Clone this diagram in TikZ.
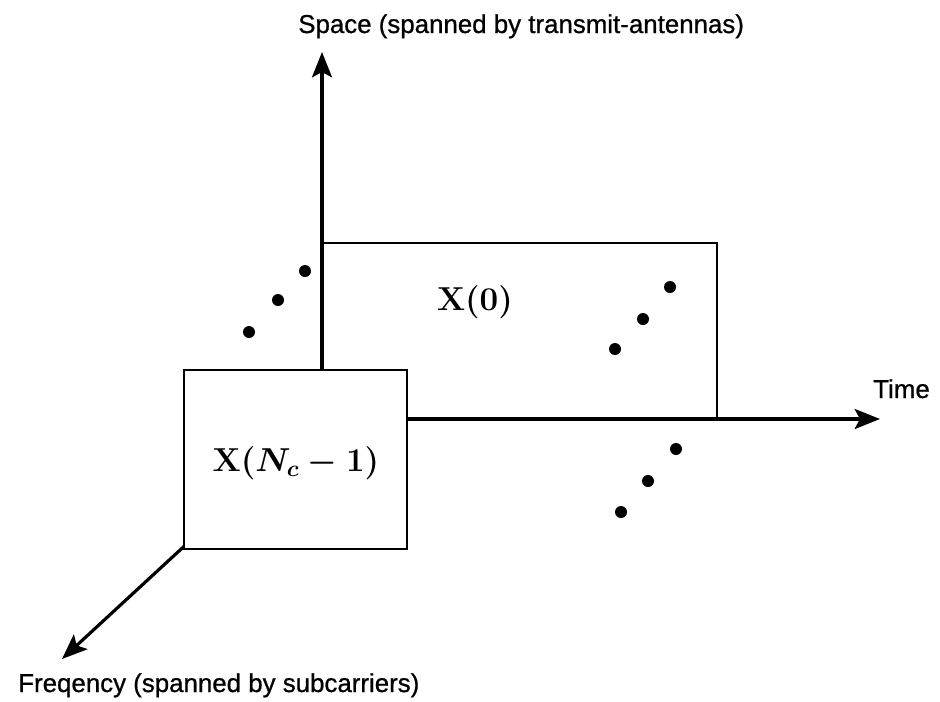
\documentclass[tikz,border=0pt]{standalone}
\usepackage[no-math]{fontspec}
\newfontfamily\lblfont{Liberation Sans}[FakeBold=0.8]
\usetikzlibrary{arrows.meta}
\tikzset{
  axis/.style={line width=2.4pt, -{Stealth[length=19pt,width=15pt,inset=4pt]}},
  panel/.style={draw, line width=1.8pt, fill=white, rectangle, inner sep=0pt},
  lbl/.style={font=\lblfont\fontsize{19.4}{22}\selectfont, inner sep=0pt},
  mlbl/.style={font=\fontsize{24}{28}\selectfont\boldmath, inner sep=0pt},
  dot/.style={circle, fill=black, inner sep=0pt, minimum size=9pt},
}
\begin{document}
\begin{tikzpicture}[x=0.75pt, y=-0.75pt]
\useasboundingbox (0,0) rectangle (940,701);
% back panel X(0)
\node[panel, minimum width=394*0.75pt, minimum height=177*0.75pt, anchor=north west] (back) at (322,242) {};
\coordinate (origin) at (322,419);
\coordinate (spaceEnd) at (322,52);
\coordinate (timeEnd) at (880,419);
\coordinate (freqEnd) at (62,659);
\draw[axis] (origin) -- (spaceEnd);
\draw[axis] (origin) -- (timeEnd);
\draw[axis] (origin) -- (freqEnd);
% front panel
\node[panel, minimum width=223*0.75pt, minimum height=179*0.75pt, anchor=north west] (front) at (183,369) {};
\node[mlbl] (x0) at (475,302) {$\mathbf{X}(0)$};
\node[mlbl] (xn) at (296,463) {$\mathbf{X}(N_c-1)$};
% dots
\node[dot] (a1) at (249,332) {};
\node[dot] (a2) at (278,300) {};
\node[dot] (a3) at (305,271) {};
\node[dot] (b1) at (615,349) {};
\node[dot] (b2) at (643,319) {};
\node[dot] (b3) at (670,287) {};
\node[dot] (c1) at (621,512) {};
\node[dot] (c2) at (648,481) {};
\node[dot] (c3) at (676,449) {};
% labels
\node[lbl, anchor=base west] (space) at (298,33) {Space (spanned by transmit-antennas)};
\node[lbl, anchor=base west] (time) at (873,398) {Time};
\node[lbl, anchor=base west] (freq) at (18,692) {Freqency (spanned by subcarriers)};
\end{tikzpicture}
\end{document}
